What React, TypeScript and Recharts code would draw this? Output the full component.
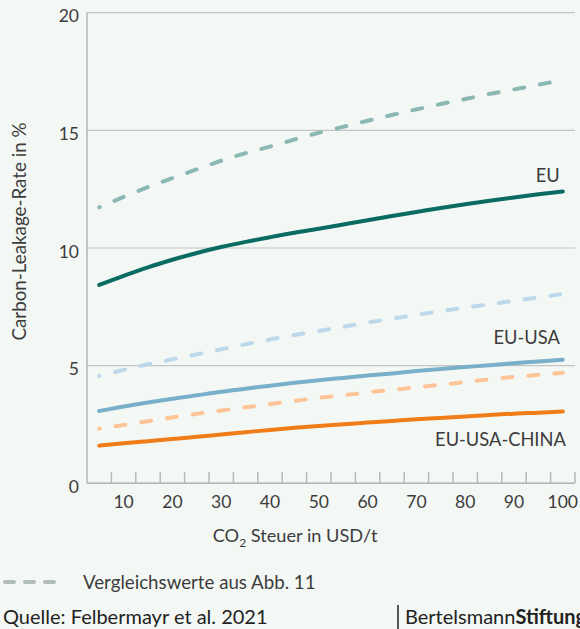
import React from "react";
import { LineChart, Line, XAxis, YAxis, CartesianGrid, LabelList } from "recharts";

const taxValues = [5, 10, 15, 20, 25, 30, 35, 40, 45, 50, 55, 60, 65, 70, 75, 80, 85, 90, 95, 100];
const euComparison = [11.73, 12.17, 12.59, 12.97, 13.34, 13.71, 14.03, 14.31, 14.61, 14.9, 15.15, 15.41, 15.65, 15.89, 16.12, 16.33, 16.55, 16.74, 16.94, 17.14];
const eu = [8.43, 8.82, 9.18, 9.5, 9.79, 10.04, 10.26, 10.46, 10.65, 10.82, 11.0, 11.18, 11.36, 11.53, 11.7, 11.86, 12.01, 12.15, 12.28, 12.4];
const euUsaComparison = [4.56, 4.82, 5.06, 5.27, 5.48, 5.69, 5.91, 6.11, 6.3, 6.47, 6.65, 6.83, 7.0, 7.16, 7.31, 7.47, 7.61, 7.76, 7.9, 8.05];
const euUsa = [3.07, 3.26, 3.43, 3.59, 3.74, 3.89, 4.02, 4.15, 4.27, 4.38, 4.48, 4.58, 4.67, 4.77, 4.86, 4.94, 5.02, 5.1, 5.18, 5.25];
const euUsaChinaComparison = [2.32, 2.48, 2.64, 2.8, 2.95, 3.09, 3.23, 3.37, 3.5, 3.63, 3.74, 3.86, 3.97, 4.08, 4.19, 4.3, 4.42, 4.52, 4.61, 4.7];
const euUsaChina = [1.6, 1.7, 1.79, 1.88, 1.98, 2.07, 2.17, 2.27, 2.36, 2.44, 2.51, 2.58, 2.65, 2.72, 2.78, 2.84, 2.9, 2.96, 3.0, 3.05];

const xLabelTicks = [10, 20, 30, 40, 50, 60, 70, 80, 90, 100];
const xMarkTicks = [7.5, 12.5, 17.5, 22.5, 27.5, 32.5, 37.5, 42.5, 47.5, 52.5, 57.5, 62.5, 67.5, 72.5, 77.5, 82.5, 87.5, 92.5, 97.5, 102.5];
const yTicks = [0, 5, 10, 15, 20];

const seriesLabels = { eu: "EU", euUsa: "EU-USA", euUsaChina: "EU-USA-CHINA" };

const data = taxValues.map((x, i) => ({
  x,
  euComparison: euComparison[i],
  eu: eu[i],
  euUsaComparison: euUsaComparison[i],
  euUsa: euUsa[i],
  euUsaChinaComparison: euUsaChinaComparison[i],
  euUsaChina: euUsaChina[i],
}));

const allXTicks = [...xLabelTicks, ...xMarkTicks].sort((a, b) => a - b);

const TEXT = "#3c3c3c";
const FONT = "Lato, 'Noto Sans', sans-serif";

const XTick = (props: any) => {
  const { x, y, payload } = props;
  const v = payload.value;
  if (v % 10 === 0) {
    return (
      <text x={x} y={y + 25} textAnchor="middle" fill={TEXT} fontSize={17.5} fontFamily={FONT}>
        {v}
      </text>
    );
  }
  return <line x1={x} x2={x} y1={y} y2={y - 11} stroke="#b7b7b7" strokeWidth={1.5} />;
};

const YTick = (props: any) => {
  const { x, y, payload } = props;
  return (
    <text x={x} y={y + 9.5} textAnchor="end" fill={TEXT} fontSize={17.5} fontFamily={FONT}>
      {payload.value}
    </text>
  );
};

const endLabel = (text: string, dx: number, dy: number) => (props: any) => {
  const { x, y, index } = props;
  if (index !== taxValues.length - 1) return null;
  return (
    <text x={x + dx} y={y + dy} textAnchor="end" fill={TEXT} fontSize={18.3} fontFamily={FONT}>
      {text}
    </text>
  );
};

const dashProps = { strokeDasharray: "10 16", strokeDashoffset: 9.5, strokeLinecap: "round" as const };

export default function App() {
  return (
    <div
      style={{
        position: "relative",
        width: 580,
        height: 629,
        background: "#f4f8f5",
        overflow: "hidden",
        fontFamily: FONT,
      }}
    >
      <style>{`html, body { margin: 0; padding: 0; background: #f4f8f5; }`}</style>
      <div style={{ position: "absolute", left: 0, top: 0 }}>
        <LineChart width={580} height={560} data={data} margin={{ top: 12.7, right: 5, left: 7, bottom: 46.7 }}>
          <CartesianGrid vertical={false} stroke="#c4c4c4" strokeWidth={1.2} />
          <XAxis
            dataKey="x"
            type="number"
            domain={[2.5, 102.5]}
            ticks={allXTicks}
            interval={0}
            tick={<XTick />}
            tickLine={false}
            tickSize={0}
            tickMargin={0}
            height={30}
            stroke="#b5b5b5"
            strokeWidth={1.5}
          />
          <YAxis
            type="number"
            domain={[0, 20]}
            ticks={yTicks}
            interval={0}
            width={80}
            tick={<YTick />}
            tickLine={false}
            stroke="#b5b5b5"
            strokeWidth={1.5}
          />
          <Line dataKey="euComparison" stroke="#8cb8b3" strokeWidth={4} dot={false} type="monotone" isAnimationActive={false} {...dashProps} />
          <Line dataKey="euUsaComparison" stroke="#bdd8ea" strokeWidth={4} dot={false} type="monotone" isAnimationActive={false} {...dashProps} />
          <Line dataKey="euUsaChinaComparison" stroke="#fdc597" strokeWidth={4} dot={false} type="monotone" isAnimationActive={false} {...dashProps} />
          <Line dataKey="euUsaChina" stroke="#f07d1a" strokeWidth={4} dot={false} type="monotone" strokeLinecap="round" isAnimationActive={false}>
            <LabelList dataKey="euUsaChina" content={endLabel(seriesLabels.euUsaChina, 3, 34.5)} />
          </Line>
          <Line dataKey="euUsa" stroke="#7aafcc" strokeWidth={4} dot={false} type="monotone" strokeLinecap="round" isAnimationActive={false}>
            <LabelList dataKey="euUsa" content={endLabel(seriesLabels.euUsa, -3, -16)} />
          </Line>
          <Line dataKey="eu" stroke="#0a6b63" strokeWidth={4} dot={false} type="monotone" strokeLinecap="round" isAnimationActive={false}>
            <LabelList dataKey="eu" content={endLabel(seriesLabels.eu, -3, -9.5)} />
          </Line>
        </LineChart>
      </div>
      <svg width={580} height={629} style={{ position: "absolute", left: 0, top: 0, pointerEvents: "none" }} fontFamily={FONT}>
        <text x={18} y={231.5} transform="rotate(-90 18 231.5)" textAnchor="middle" dominantBaseline="central" fill={TEXT} fontSize={18.8}>
          Carbon-Leakage-Rate in %
        </text>
        <text x={212.7} y={542} fill={TEXT} fontSize={18.2}>
          CO<tspan fontSize={12} dy={5}>2</tspan>
          <tspan dy={-5}> Steuer in USD/t</tspan>
        </text>
        <line x1={5} x2={60} y1={582} y2={582} stroke="#b3bdb9" strokeWidth={4} strokeDasharray="9 11" strokeLinecap="round" />
        <text x={83} y={588.5} fill={TEXT} fontSize={18.7}>
          Vergleichswerte aus Abb. 11
        </text>
        <text x={3} y={623.5} fill="#222" fontSize={20}>
          Quelle: Felbermayr et al. 2021
        </text>
        <line x1={398} x2={398} y1={605} y2={629} stroke="#222" strokeWidth={1.5} />
        <text x={405} y={623.5} fill="#222" fontSize={20}>
          Bertelsmann<tspan fontWeight="bold">Stiftung</tspan>
        </text>
      </svg>
    </div>
  );
}
